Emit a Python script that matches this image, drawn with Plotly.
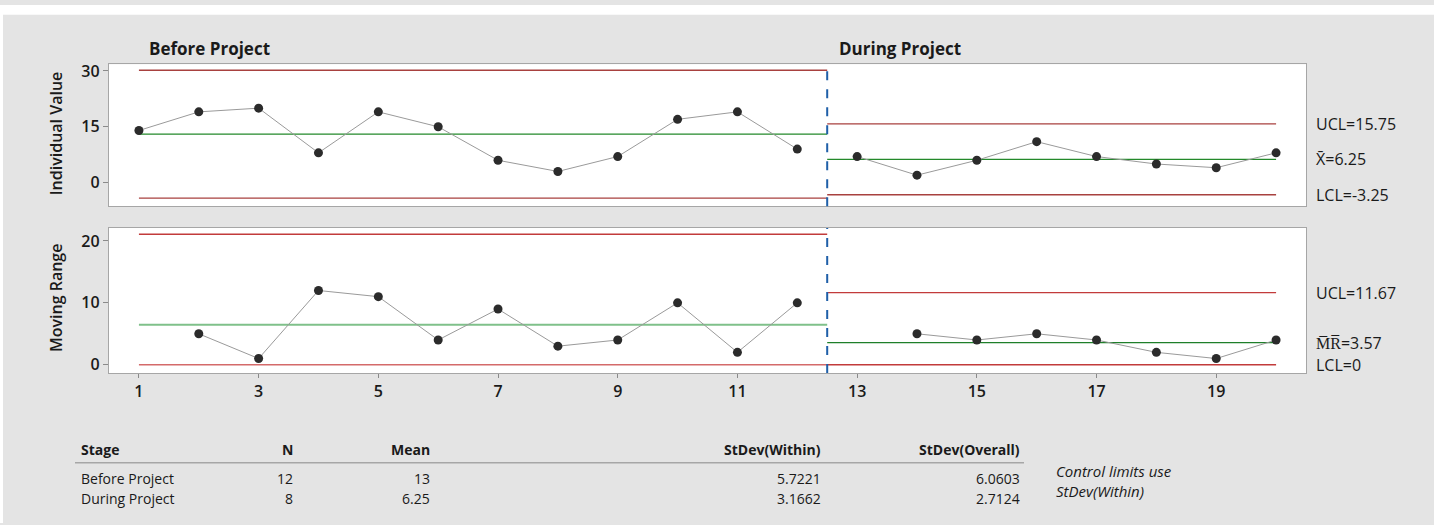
import plotly.graph_objects as go

# ---------------- data ----------------
obs_before = [1, 2, 3, 4, 5, 6, 7, 8, 9, 10, 11, 12]
val_before = [14, 19, 20, 8, 19, 15, 6, 3, 7, 17, 19, 9]
obs_during = [13, 14, 15, 16, 17, 18, 19, 20]
val_during = [7, 2, 6, 11, 7, 5, 4, 8]

mr_obs_before = [2, 3, 4, 5, 6, 7, 8, 9, 10, 11, 12]
mr_before = [5, 1, 12, 11, 4, 9, 3, 4, 10, 2, 10]
mr_obs_during = [14, 15, 16, 17, 18, 19, 20]
mr_during = [5, 4, 5, 4, 2, 1, 4]

stage_names = ["Before Project", "During Project"]
stage_x = [[1, 12.5], [12.5, 20]]
i_ucl = [30.17, 15.75]
i_cl = [13.0, 6.25]
i_lcl = [-4.17, -3.25]
mr_ucl = [21.09, 11.67]
mr_cl = [6.45, 3.57]
mr_lcl = [0, 0]

x_ticks = [1, 3, 5, 7, 9, 11, 13, 15, 17, 19]
i_ticks = [0, 15, 30]
mr_ticks = [0, 10, 20]

tbl_header = ["Stage", "N", "Mean", "StDev(Within)", "StDev(Overall)"]
tbl_stage = ["Before Project", "During Project"]
tbl_n = ["12", "8"]
tbl_mean = ["13", "6.25"]
tbl_sd_within = ["5.7221", "3.1662"]
tbl_sd_overall = ["6.0603", "2.7124"]

# ---------------- layout helpers ----------------
W, H = 1434, 525
def px(x):
    return x / W
def py(y):
    return 1 - y / H

FONT = "Open Sans"
TXT = "#1a1a1a"
BG = "#e4e4e4"
PT_COL = "#2b2b2b"
LINE_COL = "#9a9a9a"
RED_TOP = "#a8413f"
RED_BOT = "#c23b3b"
GREEN_TOP = "#23892a"
GREEN_BOT_LIGHT = "#7fc08a"
GREEN_BOT = "#1f7f2a"
BLUE = "#1f5fa8"

fig = go.Figure()

def pts(x, y, xa, ya):
    fig.add_trace(go.Scatter(x=x, y=y, mode="lines+markers", xaxis=xa, yaxis=ya,
                             line=dict(color=LINE_COL, width=1),
                             marker=dict(color=PT_COL, size=9), showlegend=False,
                             hoverinfo="x+y"))

def hline(xs, yv, color, width, xa, ya):
    fig.add_trace(go.Scatter(x=xs, y=[yv, yv], mode="lines", xaxis=xa, yaxis=ya,
                             line=dict(color=color, width=width), showlegend=False,
                             hoverinfo="skip"))

# Individual value chart
for s in range(2):
    hline(stage_x[s], i_ucl[s], RED_TOP, 1.3, "x", "y")
    hline(stage_x[s], i_lcl[s], RED_TOP, 1.3, "x", "y")
    hline(stage_x[s], i_cl[s], GREEN_TOP, 1.3, "x", "y")
pts(obs_before, val_before, "x", "y")
pts(obs_during, val_during, "x", "y")

# Moving range chart
for s in range(2):
    hline(stage_x[s], mr_ucl[s], RED_BOT, 1.3, "x2", "y2")
    hline(stage_x[s], mr_lcl[s], "#d46a6a" if s == 0 else RED_BOT, 1.6 if s == 0 else 1.3, "x2", "y2")
hline(stage_x[0], mr_cl[0], GREEN_BOT_LIGHT, 2, "x2", "y2")
hline(stage_x[1], mr_cl[1], GREEN_BOT, 1.3, "x2", "y2")
pts(mr_obs_before, mr_before, "x2", "y2")
pts(mr_obs_during, mr_during, "x2", "y2")

# stage divider (dashed blue)
boundary = stage_x[0][1]
for xa, ya in [("x", "y"), ("x2", "y2")]:
    fig.add_shape(type="line", xref=xa, yref=ya + " domain", x0=boundary, x1=boundary,
                  y0=0, y1=1, line=dict(color=BLUE, width=2, dash="dash"), layer="above")

xdom = [px(109), px(1306)]
axis_common = dict(showgrid=False, zeroline=False, showline=True, mirror=True,
                   linecolor="#a6a6a6", linewidth=1.3)
tickfont = dict(size=16, family=FONT, color=TXT, weight=600)

fig.update_layout(
    width=W, height=H,
    margin=dict(l=0, r=0, t=0, b=0),
    paper_bgcolor=BG,
    plot_bgcolor="white",
    font=dict(family=FONT, color=TXT, size=13),
    xaxis=dict(domain=xdom, range=[0.5, 20.5], anchor="y", showticklabels=False,
               ticks="", **axis_common),
    yaxis=dict(domain=[py(204), py(60)], range=[-6.35, 31.8], anchor="x",
               tickvals=i_ticks, ticks="outside", ticklen=5, tickcolor="#8a8a8a",
               tickfont=tickfont, **axis_common),
    xaxis2=dict(domain=xdom, range=[0.5, 20.5], anchor="y2", tickvals=x_ticks,
                ticks="outside", ticklen=4, tickcolor="#8a8a8a",
                tickfont=tickfont, **axis_common),
    yaxis2=dict(domain=[py(373), py(226)], range=[-1.34, 22.1], anchor="x2",
                tickvals=mr_ticks, ticks="outside", ticklen=5, tickcolor="#8a8a8a",
                tickfont=tickfont, **axis_common),
)

# white strips at the top and left edge of the picture
fig.add_shape(type="rect", xref="paper", yref="paper", x0=0, x1=1, y0=py(10), y1=1,
              fillcolor="white", line=dict(width=0), layer="below")
fig.add_shape(type="rect", xref="paper", yref="paper", x0=0, x1=px(3), y0=0, y1=1,
              fillcolor="white", line=dict(width=0), layer="below")

ann = []
def text(x, y, s, size=13, xanchor="left", yanchor="middle", weight=None, italic=False,
         angle=0, xref="paper", yref="paper"):
    f = dict(size=size, family=FONT, color=TXT)
    if weight:
        f["weight"] = weight
    if italic:
        f["style"] = "italic"
    ann.append(dict(x=x, y=y, xref=xref, yref=yref, text=s, showarrow=False,
                    xanchor=xanchor, yanchor=yanchor, font=f, textangle=angle))

# stage titles
text(px(147), py(44), stage_names[0], size=17, weight=700)
text(px(837), py(44), stage_names[1], size=17, weight=700)

# axis titles
text(px(56), py(130), "Individual Value", size=16, xanchor="center", weight=600, angle=-90)
text(px(56), py(297), "Moving Range", size=16, xanchor="center", weight=600, angle=-90)

# control limit labels (current stage)
lx = px(1314)
text(lx, i_ucl[1], f"UCL={i_ucl[1]:.2f}", size=16, yref="y")
text(lx, i_cl[1], f"X\u0304={i_cl[1]:.2f}", size=16, yref="y")
text(lx, i_lcl[1], f"LCL={i_lcl[1]:.2f}", size=16, yref="y")
text(lx, mr_ucl[1], f"UCL={mr_ucl[1]:.2f}", size=16, yref="y2")
text(lx, mr_cl[1], f"M\u0305R\u0305={mr_cl[1]:.2f}", size=16, yref="y2")
text(lx, mr_lcl[1], f"LCL={mr_lcl[1]:g}", size=16, yref="y2")

# table
col_x = [79, 295, 432, 823, 1022]
col_anchor = ["left", "right", "right", "right", "right"]
for i, h in enumerate(tbl_header):
    text(px(col_x[i]), py(450), h, size=14, xanchor=col_anchor[i], weight=700)
rows = list(zip(tbl_stage, tbl_n, tbl_mean, tbl_sd_within, tbl_sd_overall))
for r, row in enumerate(rows):
    yy = py(480 + 20 * r)
    for i, v in enumerate(row):
        text(px(col_x[i]), yy, v, size=14, xanchor=col_anchor[i])
fig.add_shape(type="line", xref="paper", yref="paper", x0=px(75), x1=px(1024),
              y0=py(464), y1=py(464), line=dict(color="#a6a6a6", width=1.5))
text(px(1054), py(472), "Control limits use", size=15, italic=True)
text(px(1054), py(493), "StDev(Within)", size=15, italic=True)

fig.update_layout(annotations=ann)
fig.write_html("out.html")
